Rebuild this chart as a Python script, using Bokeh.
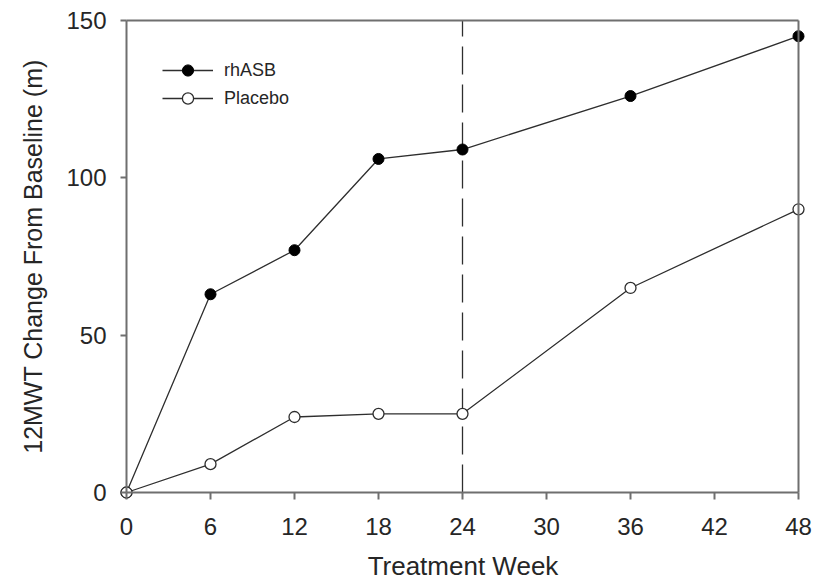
from bokeh.plotting import figure
from bokeh.models import (Range1d, LinearAxis, FixedTicker, Legend, LegendItem)
from bokeh.embed import file_html
from bokeh.resources import INLINE

# ---- data ----
weeks = [0, 6, 12, 18, 24, 36, 48]
rhasb = [0, 63, 77, 106, 109, 126, 145]
placebo = [0, 9, 24, 25, 25, 65, 90]
x_ticks = [0, 6, 12, 18, 24, 30, 36, 42, 48]
y_ticks = [0, 50, 100, 150]
cutoff_week = 24
series_names = ["rhASB", "Placebo"]
x_title = "Treatment Week"
y_title = "12MWT Change From Baseline (m)"

FONT = "Liberation Sans"
AXIS_COLOR = "#6f6f6f"
LINE_COLOR = "#2e2e2e"
TEXT_COLOR = "#262626"

x_lo, x_hi = x_ticks[0], x_ticks[-1]
y_lo, y_hi = y_ticks[0], y_ticks[-1]
px_x = 14.0
px_y = 472.0 / (y_hi - y_lo)

p = figure(width=815, height=583, output_backend="svg", toolbar_location=None,
           x_range=Range1d(x_lo - 8 / px_x, x_hi + 9 / px_x),
           y_range=Range1d(y_lo - 8 / px_y, y_hi + 8 / px_y),
           x_axis_location=None, y_axis_location=None,
           min_border_left=118, min_border_right=8, min_border_top=12,
           min_border_bottom=83)
p.outline_line_color = None
p.xgrid.visible = False
p.ygrid.visible = False
p.background_fill_color = "white"
p.border_fill_color = "white"


def base_style(ax):
    ax.axis_line_color = AXIS_COLOR
    ax.axis_line_width = 2
    ax.major_tick_line_color = AXIS_COLOR
    ax.major_tick_line_width = 2
    ax.major_tick_in = 0
    ax.minor_tick_line_color = None
    ax.minor_tick_out = 0
    ax.minor_tick_in = 0
    ax.major_label_text_font = FONT
    ax.major_label_text_font_size = "24px"
    ax.major_label_text_color = TEXT_COLOR
    ax.axis_label_text_font = FONT
    ax.axis_label_text_font_size = "25px"
    ax.axis_label_text_font_style = "normal"
    ax.axis_label_text_color = TEXT_COLOR


# label-only axes in the normal side panels
ylab = LinearAxis(ticker=FixedTicker(ticks=y_ticks), axis_label=y_title)
base_style(ylab)
ylab.axis_line_color = None
ylab.major_tick_line_color = None
ylab.major_tick_out = 0
ylab.major_label_standoff = 12
ylab.axis_label_standoff = 16

xlab = LinearAxis(ticker=FixedTicker(ticks=x_ticks), axis_label=x_title)
base_style(xlab)
xlab.axis_line_color = None
xlab.major_tick_line_color = None
xlab.major_tick_out = 0
xlab.major_label_standoff = 17
xlab.axis_label_standoff = 13
xlab.axis_label_text_font_size = "26px"

p.add_layout(ylab, "left")
p.add_layout(xlab, "below")


# axis lines + ticks pinned at the data origin, box lines at the maxima
def line_axis(ticks, bounds, loc, tick_out):
    ax = LinearAxis(ticker=FixedTicker(ticks=ticks), bounds=bounds,
                    fixed_location=loc)
    base_style(ax)
    ax.major_tick_out = tick_out
    ax.major_label_text_font_size = "0px"
    ax.major_label_text_color = None
    ax.major_label_standoff = 0
    ax.axis_label_standoff = 0
    return ax


p.add_layout(line_axis(y_ticks, (y_lo, y_hi), x_lo, 6), "left")
p.add_layout(line_axis(x_ticks, (x_lo, x_hi), y_lo, 7), "below")
p.add_layout(line_axis([], (y_lo, y_hi), x_hi, 0), "right")
p.add_layout(line_axis([], (x_lo, x_hi), y_hi, 0), "above")

# dashed reference line
p.segment(x0=[cutoff_week], y0=[y_lo], x1=[cutoff_week], y1=[y_hi],
          line_color=LINE_COLOR, line_width=1.3, line_dash="28 10")

# series
l1 = p.line(weeks, rhasb, line_color=LINE_COLOR, line_width=1.3)
s1 = p.scatter(weeks, rhasb, size=11, fill_color="black", line_color="black",
               line_width=1)
l2 = p.line(weeks, placebo, line_color=LINE_COLOR, line_width=1.3)
s2 = p.scatter(weeks, placebo, size=11, fill_color="white",
               line_color=LINE_COLOR, line_width=1.3)

legend = Legend(items=[LegendItem(label=series_names[0], renderers=[l1, s1]),
                       LegendItem(label=series_names[1], renderers=[l2, s2])],
                location="top_left", margin=44, padding=0, spacing=0,
                glyph_width=51, glyph_height=28, label_height=28,
                label_standoff=11, border_line_color=None,
                background_fill_alpha=0,
                label_text_font=FONT, label_text_font_size="18px",
                label_text_color=TEXT_COLOR)
p.add_layout(legend, "center")

open("out.html", "w").write(file_html(p, INLINE))
